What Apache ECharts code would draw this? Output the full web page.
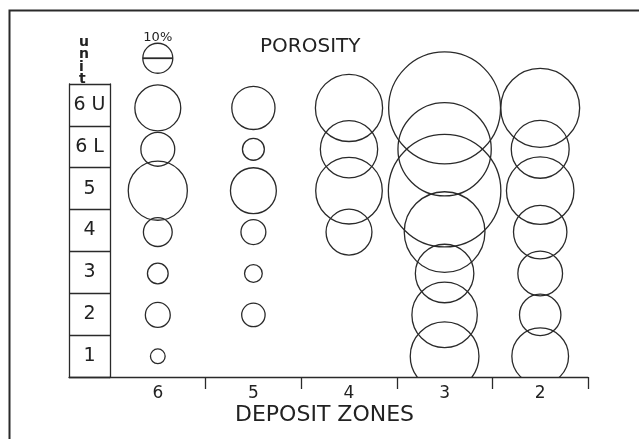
<!DOCTYPE html>
<html><head><meta charset="utf-8">
<script src="https://cdn.jsdelivr.net/npm/echarts@6/dist/echarts.min.js"></script>
<style>html,body{margin:0;padding:0;background:#fff}#c{width:639px;height:439px}</style>
</head><body><div id="c"></div>
<script>
// ---- data ----
var zones = ['6', '5', '4', '3', '2'];
var units = ['1', '2', '3', '4', '5', '6 L', '6 U'];
// porosity (%) per unit (bottom 1 -> top 6U)
var zone6 = [4.9, 8.3, 6.9, 9.6, 19.7, 11.3, 15.3];
var zone5 = [null, 7.8, 5.9, 8.3, 15.3, 7.3, 14.4];
var zone4 = [null, null, null, 15.3, 22.2, 19.1, 22.4];
var zone3 = [22.9, 21.8, 19.5, 26.9, 37.5, 31.1, 37.3];
var zone2 = [18.9, 13.8, 14.9, 17.8, 22.5, 19.3, 26.3];
var legendValue = 10;
var legendLabel = '10%';

// ---- layout ----
var PX_PER_PCT = 3;      // circle diameter per % porosity
var LEGEND_ROW = 7.2;    // row position of the legend circle
var FONT = 'DejaVu Sans';
var INK = '#2a2a2a';

var cols = [zone6, zone5, zone4, zone3, zone2];
var data = [];
cols.forEach(function (col, xi) {
  col.forEach(function (v, yi) { if (v != null) data.push([xi, yi, v]); });
});

var chart = echarts.init(document.getElementById('c'), null, {renderer: 'canvas'});
chart.setOption({
  backgroundColor: '#ffffff',
  animation: false,
  title: [
    {text: 'POROSITY', left: 255, top: 32, textStyle: {fontFamily: FONT, fontSize: 20, fontWeight: 'normal', color: '#222'}},
    {text: 'DEPOSIT ZONES', left: 230, top: 399, textStyle: {fontFamily: FONT, fontSize: 22, fontWeight: 'normal', color: '#222'}},
    {text: 'u\nn\ni\nt', left: 74, top: 31, textStyle: {fontFamily: FONT, fontSize: 14, fontWeight: 'bold', lineHeight: 12.5, color: '#222'}}
  ],
  graphic: [{
    type: 'rect', shape: {x: 9.5, y: 10.5, width: 800, height: 600},
    style: {fill: 'none', stroke: INK, lineWidth: 2}, silent: true
  }],
  grid: [
    {left: 110, right: 51, top: 10, bottom: 62},
    {left: 69, right: 529, top: 84, bottom: 62}
  ],
  xAxis: [
    {type: 'category', gridIndex: 0, data: zones, boundaryGap: true,
      axisLine: {onZero: false, lineStyle: {color: INK, width: 1.3}},
      axisTick: {show: true, length: 12, lineStyle: {color: INK, width: 1.3},
        interval: function (index) { return index > 0; }},
      axisLabel: {fontFamily: FONT, fontSize: 17, color: '#222', margin: 8, interval: 0},
      splitLine: {show: false}},
    {type: 'value', gridIndex: 1, min: 0, max: 1,
      axisLine: {show: true, onZero: false, lineStyle: {color: INK, width: 1.3}},
      axisTick: {show: false}, axisLabel: {show: false}, splitLine: {show: false}}
  ],
  yAxis: [
    {type: 'value', gridIndex: 0, min: -0.5, max: 8.365, show: false},
    {type: 'category', gridIndex: 1, data: units, boundaryGap: true,
      axisLine: {show: true, onZero: false, lineStyle: {color: INK, width: 1.3}},
      axisTick: {show: true, inside: true, length: 41, lineStyle: {color: INK, width: 1.3}},
      axisLabel: {inside: true, margin: 20.5, align: 'center', fontFamily: FONT, fontSize: 19, color: '#222'},
      splitLine: {show: false}},
    {type: 'category', gridIndex: 1, data: units, boundaryGap: true, position: 'right',
      axisLine: {show: true, onZero: false, lineStyle: {color: INK, width: 1.3}},
      axisTick: {show: false}, axisLabel: {show: false}, splitLine: {show: false}}
  ],
  series: [
    {
      type: 'custom', xAxisIndex: 0, yAxisIndex: 0, clip: true,
      data: data,
      renderItem: function (params, api) {
        var c = api.coord([api.value(0), api.value(1)]);
        var r = api.value(2) * PX_PER_PCT / 2;
        return {type: 'circle', shape: {cx: c[0], cy: c[1], r: r},
          style: {fill: 'none', stroke: INK, lineWidth: 1.3}};
      }
    },
    {
      type: 'custom', xAxisIndex: 0, yAxisIndex: 0, clip: false,
      data: [[0, LEGEND_ROW, legendValue]],
      renderItem: function (params, api) {
        var c = api.coord([api.value(0), api.value(1)]);
        var r = api.value(2) * PX_PER_PCT / 2;
        return {type: 'group', children: [
          {type: 'circle', shape: {cx: c[0], cy: c[1], r: r}, style: {fill: 'none', stroke: INK, lineWidth: 1.3}},
          {type: 'line', shape: {x1: c[0] - r, y1: c[1], x2: c[0] + r, y2: c[1]}, style: {stroke: INK, lineWidth: 1.8}},
          {type: 'text', style: {text: legendLabel, x: c[0], y: c[1] - r + 1, textAlign: 'center', textVerticalAlign: 'bottom',
            font: '13px "DejaVu Sans"', fill: '#222'}}
        ]};
      }
    }
  ]
});
</script></body></html>
